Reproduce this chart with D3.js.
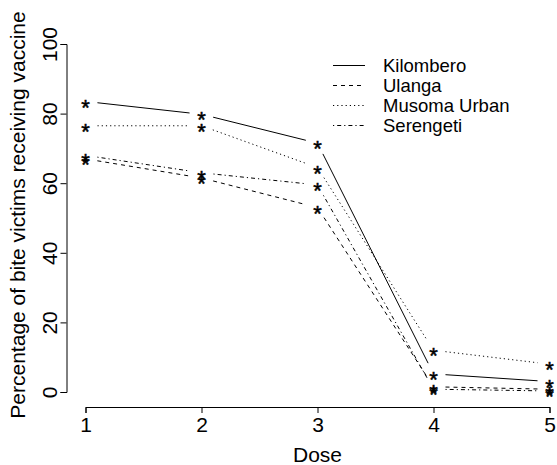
<!DOCTYPE html>
<html>
<head>
<meta charset="utf-8">
<script src="https://cdn.jsdelivr.net/npm/d3@7"></script>
<style>
  body { margin: 0; background: #fff; }
  svg text { font-family: "Liberation Sans", Arial, Helvetica, sans-serif; fill: #000; }
</style>
</head>
<body>
<svg id="chart"></svg>
<script>
// data
const doses = [1, 2, 3, 4, 5];
const kilombero = [83.5, 79.8, 71.5, 5.2, 3.0];
const ulanga = [67, 61.5, 53, 1.5, 0.8];
const musomaUrban = [76.5, 76.5, 64.5, 12, 8];
const serengeti = [68, 63, 59.5, 0.8, 0.3];
const districtNames = ['Kilombero', 'Ulanga', 'Musoma Urban', 'Serengeti'];
const yTicks = [0, 20, 40, 60, 80, 100];

// line types like R lty 1..4
const dashes = [null, '4,4', '1.2,3', '1.2,3,4,3'];

const width = 557;
const height = 465;
const fontSize = 21;

const svg = d3.select('#chart')
  .attr('width', width)
  .attr('height', height);

const xScale = d3.scaleLinear().domain([1, 5]).range([85.5, 549.5]);
const yScale = d3.scaleLinear().domain([0, 100]).range([392, 44]);

// axes
const xAxis = svg.append('g')
  .attr('transform', 'translate(0,407)')
  .call(d3.axisBottom(xScale).tickValues(doses).tickFormat(d3.format('d')).tickSizeOuter(0).tickSize(6));
xAxis.selectAll('text')
  .attr('y', 25).attr('dy', 0)
  .style('font-size', fontSize + 'px');

const yAxis = svg.append('g')
  .attr('transform', 'translate(66.5,0)')
  .call(d3.axisLeft(yScale).tickValues(yTicks).tickSizeOuter(0).tickSize(6));
yAxis.selectAll('text')
  .attr('x', 0).attr('dy', 0)
  .attr('transform', 'translate(-9.5,0) rotate(-90)')
  .attr('text-anchor', 'middle')
  .style('font-size', fontSize + 'px');

svg.selectAll('.domain, .tick line').attr('stroke', '#000');

// axis titles
svg.append('text')
  .attr('x', xScale(3))
  .attr('y', 462)
  .attr('text-anchor', 'middle')
  .style('font-size', fontSize + 'px')
  .text('Dose');

svg.append('text')
  .attr('transform', 'translate(25,215) rotate(-90)')
  .attr('text-anchor', 'middle')
  .style('font-size', fontSize + 'px')
  .text('Percentage of bite victims receiving vaccine');

// series, drawn like R type="b" (gaps around the points)
const series = [kilombero, ulanga, musomaUrban, serengeti];
const gap = 12;

series.forEach((vals, i) => {
  const pts = doses.map((d, j) => [xScale(d), yScale(vals[j])]);
  const segs = d3.pairs(pts).map(([a, b]) => {
    const dx = b[0] - a[0], dy = b[1] - a[1];
    const len = Math.hypot(dx, dy);
    const ux = dx / len, uy = dy / len;
    return [a[0] + ux * gap, a[1] + uy * gap, b[0] - ux * gap, b[1] - uy * gap];
  });
  svg.append('g').selectAll('line')
    .data(segs)
    .enter()
    .append('line')
    .attr('x1', s => s[0]).attr('y1', s => s[1])
    .attr('x2', s => s[2]).attr('y2', s => s[3])
    .attr('stroke', '#000')
    .attr('stroke-width', 1)
    .attr('stroke-dasharray', dashes[i]);

  svg.append('g').selectAll('text')
    .data(pts)
    .enter()
    .append('text')
    .attr('x', p => p[0])
    .attr('y', p => p[1])
    .attr('dy', '0.6em')
    .attr('text-anchor', 'middle')
    .attr('stroke', '#000')
    .attr('stroke-width', 0.5)
    .style('font-size', '22px')
    .text('*');
});

// legend
const legend = svg.append('g');
districtNames.forEach((name, i) => {
  const y = 65.5 + i * 20;
  legend.append('line')
    .attr('x1', 333).attr('x2', 365)
    .attr('y1', y).attr('y2', y)
    .attr('stroke', '#000')
    .attr('stroke-width', 1)
    .attr('stroke-dasharray', dashes[i]);
  legend.append('text')
    .attr('x', 383)
    .attr('y', y)
    .attr('dy', '0.36em')
    .style('font-size', '18.5px')
    .text(name);
});
</script>
</body>
</html>
